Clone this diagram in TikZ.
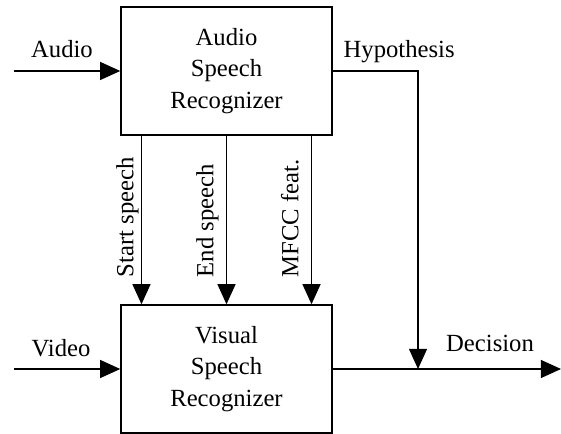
\documentclass[tikz,border=0pt]{standalone}
\usepackage{fontspec}
\setmainfont{Liberation Serif}
\usetikzlibrary{arrows.meta,positioning}
\tikzstyle{block}=[draw,line width=0.7pt,minimum width=3.517cm,minimum height=2.133cm,inner sep=0pt,align=center]
\tikzstyle{lbl}=[inner sep=0pt,anchor=base]
\tikzstyle{vlbl}=[inner sep=0pt,anchor=base west,rotate=90]

\begin{document}
\begin{tikzpicture}[line width=0.6pt,>={Triangle[length=9.5pt,width=8.5pt]},font=\fontsize{11.7}{14.9}\selectfont]
\useasboundingbox (0,0) rectangle (9.35,7.233);
\draw (3.775,6.05) node [block] (asr) {Audio\\Speech\\Recognizer};
\draw (3.775,1.083) node [block] (vsr) {Visual\\Speech\\Recognizer};
\coordinate (ain) at (0.233,6.05);
\coordinate (vin) at (0.233,1.083);
\coordinate (join) at (6.967,1.083);
\coordinate (dec) at (9.35,1.083);
\draw (1.033,6.27) node [lbl] (alab) {Audio};
\draw (1.017,1.288) node [lbl] (vlab) {Video};
\draw (5.717,6.27) node [lbl,anchor=base west] (hlab) {Hypothesis};
\draw (8.167,1.372) node [lbl] (dlab) {Decision};
\draw (2.222,2.6) node [vlbl] (slab) {Start speech};
\draw (3.555,2.6) node [vlbl] (elab) {End speech};
\draw (4.972,2.6) node [vlbl] (mlab) {MFCC feat.};
\draw[->] (ain) -- (asr);
\draw[->] (vin) -- (vsr);
\draw[->] ([xshift=-1.417cm]asr.south) -- ([xshift=-1.417cm]vsr.north);
\draw[->] (asr.south) -- (vsr.north);
\draw[->] ([xshift=1.417cm]asr.south) -- ([xshift=1.417cm]vsr.north);
\draw[->] (asr.east) -| (join);
\draw[->] (vsr.east) -- (dec);
\end{tikzpicture}
\end{document}
